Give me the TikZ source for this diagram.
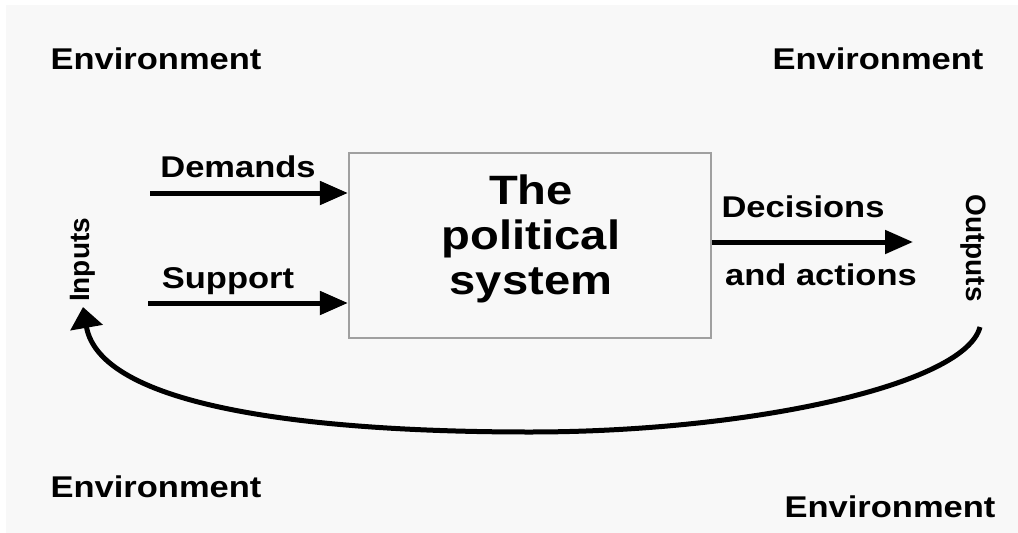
\documentclass[tikz,border=0pt]{standalone}
\usepackage{fontspec}
\newfontfamily\labfont{Liberation Sans}[FakeStretch=1.15]
\newfontfamily\rotfont{Liberation Sans}
\usetikzlibrary{arrows.meta}
\definecolor{bgc}{HTML}{F8F8F8}
\definecolor{boxc}{HTML}{A0A0A0}
\begin{document}
\begin{tikzpicture}[x=1pt,y=-1pt,
  lab/.style={font=\labfont\bfseries\fontsize{30}{34}\selectfont, text=black, inner sep=0pt},
  rlab/.style={font=\rotfont\bfseries\fontsize{28}{32}\selectfont, text=black, inner sep=0pt},
  sysbox/.style={draw=boxc, line width=2.2pt, fill=bgc, minimum width=362pt, minimum height=185pt, inner sep=0pt},
  title/.style={inner sep=0pt, align=center, font=\labfont\bfseries\fontsize{41}{45}\selectfont},
  arr/.style={line width=5pt, -{Triangle[length=28pt,width=23pt]}},
  fb/.style={line width=5pt, -{Triangle[length=21pt,width=32pt]}}]
\fill[white] (0,0) rectangle (1018,533);
\fill[bgc] (6,5) rectangle (1018,533);
\useasboundingbox (0,0) rectangle (1018,533);

% environment labels
\node[lab] (envTL) at (156,59) {Environment};
\node[lab] (envTR) at (878,59) {Environment};
\node[lab] (envBL) at (156,487) {Environment};
\node[lab] (envBR) at (890,507) {Environment};

% system box
\node[sysbox] (sys) at (530,245.5) {};
\node[title] (ttl) at (531,239) {The\\political\\system};

% inputs
\node[lab, anchor=base] (dem) at (238,177) {Demands};
\node[lab, anchor=base] (sup) at (228,288) {Support};
\coordinate (d0) at (150,193);
\coordinate (s0) at (148,303);
\draw[arr] (d0) -- (d0 -| sys.west);
\draw[arr] (s0) -- (s0 -| sys.west);
\node[rlab, rotate=90] (inp) at (83,260) {Inputs};

% outputs
\coordinate (o1) at (913,242);
\draw[arr] (sys.east |- o1) -- (o1);
\node[lab, anchor=base] (dec) at (803,217) {Decisions};
\node[lab, anchor=base] (act) at (821,285) {and actions};
\node[rlab, rotate=-90] (outp) at (973,248) {Outputs};

% feedback loop
\coordinate (fb0) at (980,327);
\coordinate (fbm) at (530,432);
\coordinate (fb1) at (83,307);
\draw[fb] (fb0) .. controls (965,385) and (750,432) .. (fbm)
  .. controls (300,432) and (100,405) .. (fb1);
\end{tikzpicture}
\end{document}
